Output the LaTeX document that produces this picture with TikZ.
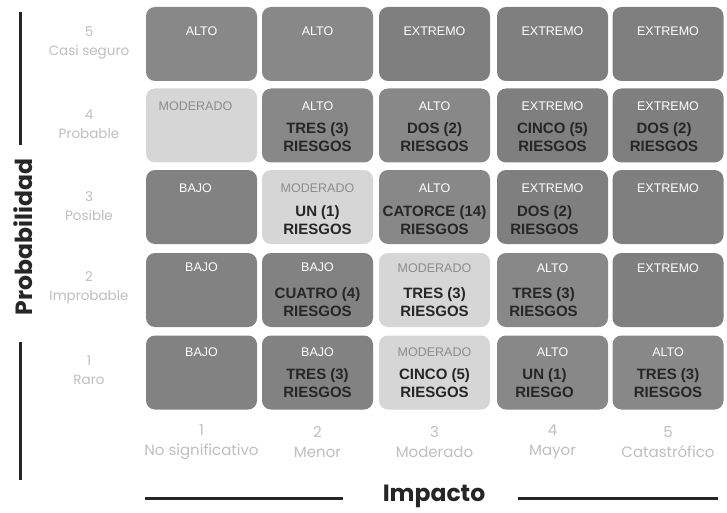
\documentclass[tikz,border=0pt]{standalone}
\usepackage{fontspec}
\setmainfont{Liberation Sans}
\newfontfamily\popp{Poppins}
\begin{document}
\begin{tikzpicture}[x=1pt,y=-1pt,
  cell/.style={rounded corners=9pt, minimum width=111pt, minimum height=74pt, inner sep=0pt},
  alto/.style={cell, fill=altoC},
  extr/.style={cell, fill=extrC},
  bajo/.style={cell, fill=bajoC},
  mode/.style={cell, fill=modeC},
  lvl/.style={text=white, font=\fontsize{12.5}{14}\selectfont, inner sep=0pt},
  lvlm/.style={text=modtxt, font=\fontsize{12.5}{14}\selectfont, inner sep=0pt},
  cnt/.style={text=black!85, font=\bfseries\fontsize{15}{18}\selectfont, align=center, inner sep=0pt},
  rowlab/.style={text=gray!50, font=\popp\fontsize{13.5}{19}\selectfont, align=center, inner sep=0pt},
  collab/.style={text=gray!50, font=\popp\fontsize{15}{20}\selectfont, align=center, inner sep=0pt},
  axis/.style={line width=3pt, black!85},
  title/.style={font=\popp\bfseries\fontsize{23.5}{26}\selectfont, text=black!85, inner sep=0pt}
]
\definecolor{altoC}{HTML}{888888}
\definecolor{extrC}{HTML}{7F7F7F}
\definecolor{bajoC}{HTML}{828282}
\definecolor{modeC}{HTML}{D6D6D6}
\definecolor{modtxt}{HTML}{8C8C8C}
\useasboundingbox (0,0) rectangle (727,513);
\fill[white] (0,0) rectangle (727,513);
% row 5
\node[alto] (c51) at (201.5,44) {};
\node[alto] (c52) at (317.5,44) {};
\node[extr] (c53) at (434.5,44) {};
\node[extr] (c54) at (552.5,44) {};
\node[extr] (c55) at (668,44) {};
% row 4
\node[mode] (c41) at (201.5,125.5) {};
\node[alto] (c42) at (317.5,125.5) {};
\node[alto] (c43) at (434.5,125.5) {};
\node[extr] (c44) at (552.5,125.5) {};
\node[extr] (c45) at (668,125.5) {};
% row 3
\node[bajo] (c31) at (201.5,207) {};
\node[mode] (c32) at (317.5,207) {};
\node[alto] (c33) at (434.5,207) {};
\node[extr] (c34) at (552.5,207) {};
\node[extr] (c35) at (668,207) {};
% row 2
\node[bajo] (c21) at (201.5,290) {};
\node[bajo] (c22) at (317.5,290) {};
\node[mode] (c23) at (434.5,290) {};
\node[alto] (c24) at (552.5,290) {};
\node[extr] (c25) at (668,290) {};
% row 1
\node[bajo] (c11) at (201.5,372.5) {};
\node[bajo] (c12) at (317.5,372.5) {};
\node[mode] (c13) at (434.5,372.5) {};
\node[alto] (c14) at (552.5,372.5) {};
\node[alto] (c15) at (668,372.5) {};
% level labels
\node[lvl] (l51) at ([yshift=-24]c51.north) {ALTO};
\node[lvl] (l52) at ([yshift=-24]c52.north) {ALTO};
\node[lvl] (l53) at ([yshift=-24]c53.north) {EXTREMO};
\node[lvl] (l54) at ([yshift=-24]c54.north) {EXTREMO};
\node[lvl] (l55) at ([yshift=-24]c55.north) {EXTREMO};
\node[lvlm] (l41) at ([xshift=-6,yshift=-18]c41.north) {MODERADO};
\node[lvl] (l42) at ([yshift=-18]c42.north) {ALTO};
\node[lvl] (l43) at ([yshift=-18]c43.north) {ALTO};
\node[lvl] (l44) at ([yshift=-18]c44.north) {EXTREMO};
\node[lvl] (l45) at ([yshift=-18]c45.north) {EXTREMO};
\node[lvl] (l31) at ([xshift=-6,yshift=-18]c31.north) {BAJO};
\node[lvlm] (l32) at ([yshift=-18]c32.north) {MODERADO};
\node[lvl] (l33) at ([yshift=-18]c33.north) {ALTO};
\node[lvl] (l34) at ([yshift=-18]c34.north) {EXTREMO};
\node[lvl] (l35) at ([yshift=-18]c35.north) {EXTREMO};
\node[lvl] (l21) at ([yshift=-14]c21.north) {BAJO};
\node[lvl] (l22) at ([yshift=-14]c22.north) {BAJO};
\node[lvlm] (l23) at ([yshift=-15]c23.north) {MODERADO};
\node[lvl] (l24) at ([yshift=-15]c24.north) {ALTO};
\node[lvl] (l25) at ([yshift=-15]c25.north) {EXTREMO};
\node[lvl] (l11) at ([yshift=-17]c11.north) {BAJO};
\node[lvl] (l12) at ([yshift=-17]c12.north) {BAJO};
\node[lvlm] (l13) at ([yshift=-17]c13.north) {MODERADO};
\node[lvl] (l14) at ([yshift=-17]c14.north) {ALTO};
\node[lvl] (l15) at ([yshift=-17]c15.north) {ALTO};
% counts
\node[cnt] (n42) at ([yshift=-11.5]c42.center) {TRES (3)\\RIESGOS};
\node[cnt] (n43) at ([yshift=-11.5]c43.center) {DOS (2)\\RIESGOS};
\node[cnt] (n44) at ([yshift=-11.5]c44.center) {CINCO (5)\\RIESGOS};
\node[cnt] (n45) at ([xshift=-4,yshift=-11.5]c45.center) {DOS (2)\\RIESGOS};
\node[cnt] (n32) at ([yshift=-13]c32.center) {UN (1)\\RIESGOS};
\node[cnt] (n33) at ([yshift=-13]c33.center) {CATORCE (14)\\RIESGOS};
\node[cnt] (n34) at ([xshift=-8,yshift=-13]c34.center) {DOS (2)\\RIESGOS};
\node[cnt] (n22) at ([yshift=-12]c22.center) {CUATRO (4)\\RIESGOS};
\node[cnt] (n23) at ([yshift=-12]c23.center) {TRES (3)\\RIESGOS};
\node[cnt] (n24) at ([xshift=-9,yshift=-12]c24.center) {TRES (3)\\RIESGOS};
\node[cnt] (n12) at ([yshift=-11]c12.center) {TRES (3)\\RIESGOS};
\node[cnt] (n13) at ([yshift=-11]c13.center) {CINCO (5)\\RIESGOS};
\node[cnt] (n14) at ([xshift=-8,yshift=-11]c14.center) {UN (1)\\RIESGO};
\node[cnt] (n15) at ([yshift=-11]c15.center) {TRES (3)\\RIESGOS};
% row labels
\node[rowlab] (r5) at (89,42.5) {5\\Casi seguro};
\node[rowlab] (r4) at (89,124) {4\\Probable};
\node[rowlab] (r3) at (89,206) {3\\Posible};
\node[rowlab] (r2) at (89,288) {2\\Improbable};
\node[rowlab] (r1) at (89,370) {1\\Raro};
% column labels
\node[collab] (k1) at (201.5,442) {1\\No significativo};
\node[collab] (k2) at (317.5,442) {2\\Menor};
\node[collab] (k3) at (434.5,442) {3\\Moderado};
\node[collab] (k4) at (552.5,442) {4\\Mayor};
\node[collab] (k5) at (668,442) {5\\Catastrófico};
% axis titles
\node[title, rotate=90] (py) at (23,237) {Probabilidad};
\node[title] (px) at (434,496) {Impacto};
\coordinate (ya1) at (20,12);
\coordinate (ya2) at (20,145);
\coordinate (yb1) at (20,342);
\coordinate (yb2) at (20,480);
\coordinate (xa1) at (145,498);
\coordinate (xa2) at (343,498);
\coordinate (xb1) at (518,498);
\coordinate (xb2) at (718,498);
\draw[axis] (ya1) -- (ya2);
\draw[axis] (yb1) -- (yb2);
\draw[axis] (xa1) -- (xa2);
\draw[axis] (xb1) -- (xb2);
\end{tikzpicture}
\end{document}
